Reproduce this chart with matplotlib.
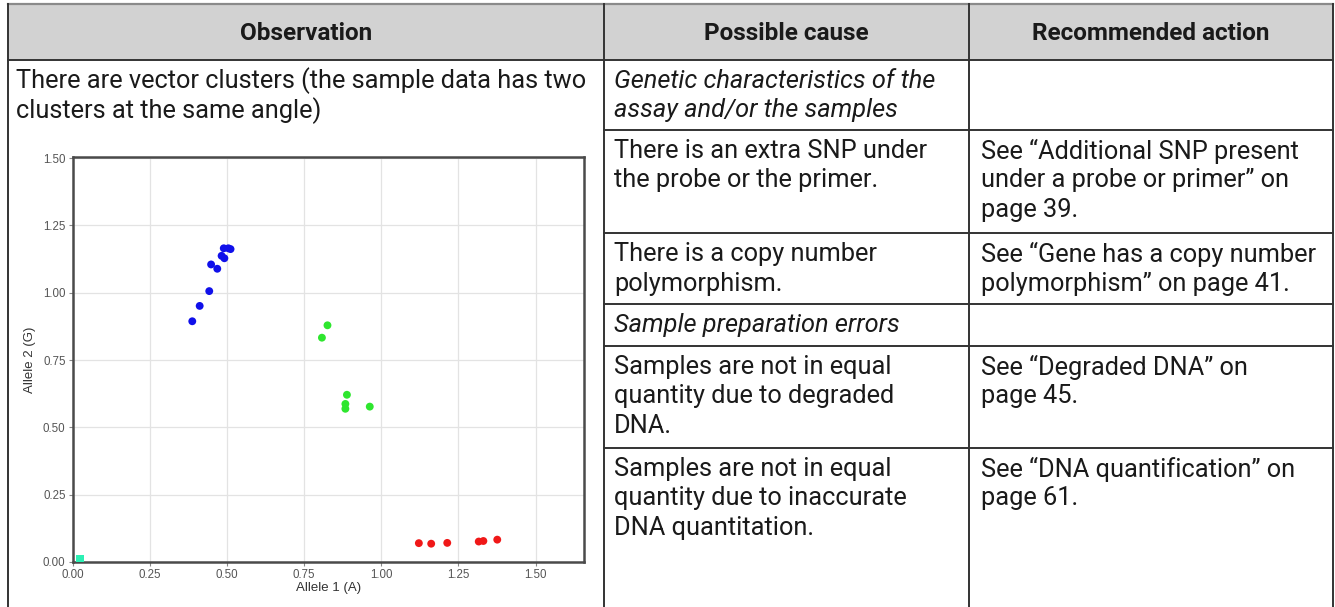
import matplotlib
matplotlib.use("Agg")
import matplotlib.pyplot as plt
from matplotlib.lines import Line2D
from matplotlib.patches import Rectangle

# ------------------------------------------------------------------
# Data
# ------------------------------------------------------------------
headers = ["Observation", "Possible cause", "Recommended action"]

observation = ["There are vector clusters (the sample data has two",
               "clusters at the same angle)"]

causes = [
    (["Genetic characteristics of the", "assay and/or the samples"], True),
    (["There is an extra SNP under", "the probe or the primer."], False),
    (["There is a copy number", "polymorphism."], False),
    (["Sample preparation errors"], True),
    (["Samples are not in equal", "quantity due to degraded", "DNA."], False),
    (["Samples are not in equal", "quantity due to inaccurate",
      "DNA quantitation."], False),
]

actions = [
    [],
    ["See \u201cAdditional SNP present", "under a probe or primer\u201d on",
     "page 39."],
    ["See \u201cGene has a copy number", "polymorphism\u201d on page 41."],
    [],
    ["See \u201cDegraded DNA\u201d on", "page 45."],
    ["See \u201cDNA quantification\u201d on", "page 61."],
]

# scatter clusters: Allele 1 (A) vs Allele 2 (G)
blue_x = [0.388, 0.412, 0.443, 0.449, 0.469, 0.483, 0.492, 0.490, 0.505, 0.512]
blue_y = [0.894, 0.951, 1.006, 1.105, 1.089, 1.137, 1.128, 1.165, 1.165, 1.162]
green_x = [0.808, 0.826, 0.889, 0.884, 0.884, 0.963]
green_y = [0.833, 0.879, 0.621, 0.587, 0.569, 0.577]
red_x = [1.122, 1.162, 1.214, 1.316, 1.331, 1.376]
red_y = [0.070, 0.068, 0.071, 0.076, 0.078, 0.083]
ntc_x = [0.025]
ntc_y = [0.010]
ticks = [0.0, 0.25, 0.5, 0.75, 1.0, 1.25, 1.5]

# ------------------------------------------------------------------
# Layout (pixels, measured from top-left)
# ------------------------------------------------------------------
W, H = 1335, 607
col_x = [8, 604, 969, 1333]
row_y = [4, 60, 130, 233, 304, 346, 448, 607]
LINE_GAP = 29.5
FONT = "Roboto"
FS = 18.3
FS_HEAD = 17.5
EDGE = "#333333"

fig = plt.figure(figsize=(W / 100, H / 100), dpi=100)
fig.patch.set_facecolor("white")


def fx(px):
    return px / W


def fy(py):
    return 1 - py / H


def hline(y, x0, x1, color=EDGE, lw=1.4):
    fig.add_artist(Line2D([fx(x0), fx(x1)], [fy(y), fy(y)], color=color, lw=lw))


def vline(x, y0, y1, color=EDGE, lw=1.4):
    fig.add_artist(Line2D([fx(x), fx(x)], [fy(y0), fy(y1)], color=color, lw=lw))


def cell_text(lines, x, y_top, italic=False):
    for i, s in enumerate(lines):
        fig.text(fx(x), fy(y_top + 21 + i * LINE_GAP), s, family=FONT, fontsize=FS,
                 style="italic" if italic else "normal", color="#1a1a1a",
                 ha="left", va="center")


# header band
fig.add_artist(Rectangle((fx(col_x[0]), fy(row_y[1])), fx(col_x[-1] - col_x[0]),
                         fy(row_y[0]) - fy(row_y[1]), facecolor="#d2d2d2",
                         edgecolor="none"))
for i, h in enumerate(headers):
    fig.text(fx((col_x[i] + col_x[i + 1]) / 2), fy((row_y[0] + row_y[1]) / 2 + 1), h,
             family=FONT, fontsize=FS_HEAD, fontweight="bold", color="#1a1a1a",
             ha="center", va="center")

hline(row_y[0], col_x[0], col_x[-1], color="#8a8a8a", lw=1.6)
hline(row_y[1], col_x[0], col_x[-1])
for y in row_y[2:-1]:
    hline(y, col_x[1], col_x[-1])
for x in col_x:
    vline(x, row_y[0], row_y[-1])

cell_text(observation, col_x[0] + 8, row_y[1])
for r, ((lines, ital), act) in enumerate(zip(causes, actions)):
    cell_text(lines, col_x[1] + 10, row_y[r + 1], italic=ital)
    cell_text(act, col_x[2] + 12, row_y[r + 1])

# ------------------------------------------------------------------
# Embedded cluster plot
# ------------------------------------------------------------------
ax_l, ax_r, ax_t, ax_b = 72.5, 584, 157, 562
ax = fig.add_axes([fx(ax_l), fy(ax_b), fx(ax_r - ax_l), fy(ax_t) - fy(ax_b)])
ax.set_xlim(0, 1.657)
ax.set_ylim(0, 1.504)
ax.set_xticks(ticks)
ax.set_yticks(ticks)
ax.set_xticklabels([f"{t:.2f}" for t in ticks])
ax.set_yticklabels([f"{t:.2f}" for t in ticks])
ax.grid(True, color="#e3e3e3", lw=0.9)
ax.set_axisbelow(True)
for sp in ax.spines.values():
    sp.set_color("#4a4a4a")
    sp.set_linewidth(1.8)
ax.tick_params(length=3, width=0.8, color="#888888", labelsize=8.3,
               labelcolor="#555555", pad=2)
for lab in ax.get_xticklabels() + ax.get_yticklabels():
    lab.set_family("Liberation Sans")

ax.scatter(blue_x, blue_y, s=32, color="#1010ea", edgecolors="none", zorder=3)
ax.scatter(green_x, green_y, s=32, color="#2ee62e", edgecolors="none", zorder=3)
ax.scatter(red_x, red_y, s=32, color="#f01818", edgecolors="none", zorder=3)
ax.scatter(ntc_x, ntc_y, s=34, marker="s", color="#2cf0b4", edgecolors="none",
           zorder=3)

ax.set_xlabel("Allele 1 (A)", family="Liberation Sans", fontsize=9.5,
              color="#333333", labelpad=1)
ax.set_ylabel("Allele 2 (G)", family="Liberation Sans", fontsize=9.5,
              color="#333333", labelpad=5)

fig.savefig("out.png", dpi=100, facecolor="white")
